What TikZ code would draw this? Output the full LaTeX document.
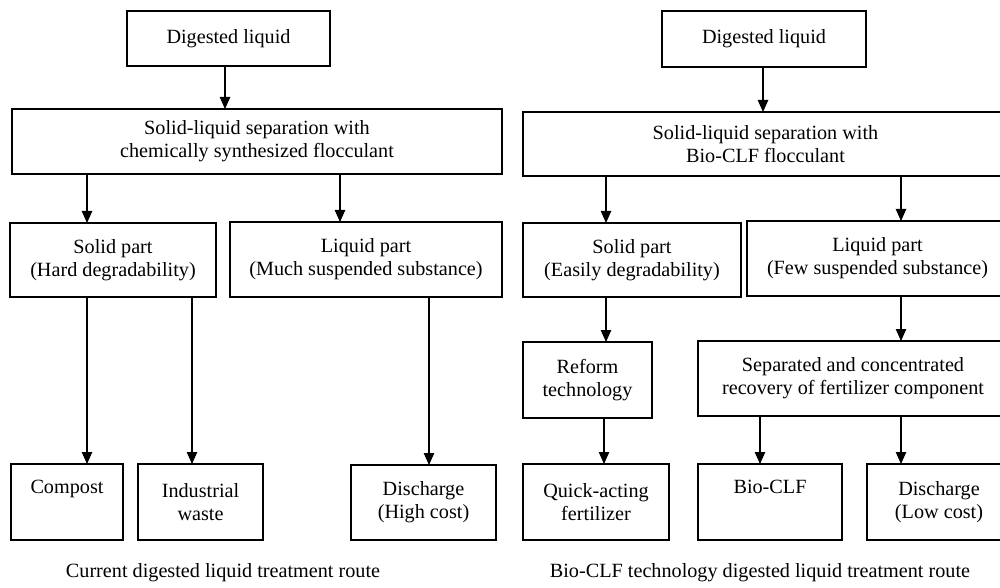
\documentclass[tikz,border=0pt]{standalone}
\usepackage{fontspec}
\setmainfont{Liberation Serif}
\usetikzlibrary{arrows.meta}
\begin{document}
\begin{tikzpicture}[x=0.5pt,y=-0.5pt,
  box/.style={draw, line width=1pt, inner sep=0pt, outer sep=0pt, align=center, anchor=north west,
    font=\fontsize{10.1}{11.4}\selectfont},
  arr/.style={line width=0.6pt, -{Triangle[width=5.2pt,length=6pt]}},
  captext/.style={font=\fontsize{10.1}{11.4}\selectfont}]
\clip (0,0) rectangle (1000,588);
\useasboundingbox (0,0) rectangle (1000,588);
% left route
\node[box, minimum width=101.5pt, minimum height=27.5pt] (dl1) at (127,11) {Digested liquid};
\node[box, minimum width=245pt, minimum height=32.5pt] (sl1) at (12,109) {Solid-liquid separation with\\chemically synthesized flocculant};
\node[box, minimum width=103pt, minimum height=37pt] (sp1) at (10,223) {Solid part\\(Hard degradability)};
\node[box, minimum width=136pt, minimum height=37.5pt] (lp1) at (230,222) {Liquid part\\(Much suspended substance)};
\node[box, minimum width=56pt, minimum height=38pt] (co) at (11,464) {Compost\\\strut};
\node[box, minimum width=62.5pt, minimum height=38pt] (iw) at (138,464) {Industrial\\waste};
\node[box, minimum width=72.5pt, minimum height=37.5pt] (dh) at (351,465) {Discharge\\(High cost)};
\node[captext] (c1) at (223,573) {Current digested liquid treatment route};
% right route
\node[box, minimum width=102pt, minimum height=28pt] (dl2) at (662,11) {Digested liquid};
\node[box, minimum width=242.5pt, minimum height=32pt] (sl2) at (523,112) {Solid-liquid separation with\\Bio-CLF flocculant};
\node[box, minimum width=109pt, minimum height=37pt] (sp2) at (523,223) {Solid part\\(Easily degradability)};
\node[box, minimum width=130.5pt, minimum height=37.5pt] (lp2) at (747,221) {Liquid part\\(Few suspended substance)};
\node[box, minimum width=64.5pt, minimum height=38pt] (rt) at (523,342) {Reform\\technology};
\node[box, minimum width=155pt, minimum height=37.5pt] (sc) at (698,341) {Separated and concentrated\\recovery of fertilizer component};
\node[box, minimum width=73pt, minimum height=38pt] (qf) at (523,464) {Quick-acting\\fertilizer};
\node[box, minimum width=72pt, minimum height=38pt] (bc) at (698,464) {Bio-CLF\\\strut};
\node[box, minimum width=72pt, minimum height=38pt] (dlc) at (867,464) {Discharge\\(Low cost)};
\node[captext] (c2) at (760,573) {Bio-CLF technology digested liquid treatment route};
% arrow columns
\coordinate (xa) at (225,0);
\coordinate (xb) at (87,0);
\coordinate (xc) at (340,0);
\coordinate (xd) at (192,0);
\coordinate (xe) at (429,0);
\coordinate (xf) at (763,0);
\coordinate (xg) at (606,0);
\coordinate (xh) at (901,0);
\coordinate (xi) at (604,0);
\coordinate (xj) at (760,0);
% left arrows
\draw[arr] (dl1.south -| xa) -- (sl1.north -| xa);
\draw[arr] (sl1.south -| xb) -- (sp1.north -| xb);
\draw[arr] (sl1.south -| xc) -- (lp1.north -| xc);
\draw[arr] (sp1.south -| xb) -- (co.north -| xb);
\draw[arr] (sp1.south -| xd) -- (iw.north -| xd);
\draw[arr] (lp1.south -| xe) -- (dh.north -| xe);
% right arrows
\draw[arr] (dl2.south -| xf) -- (sl2.north -| xf);
\draw[arr] (sl2.south -| xg) -- (sp2.north -| xg);
\draw[arr] (sl2.south -| xh) -- (lp2.north -| xh);
\draw[arr] (sp2.south -| xg) -- (rt.north -| xg);
\draw[arr] (lp2.south -| xh) -- (sc.north -| xh);
\draw[arr] (rt.south -| xi) -- (qf.north -| xi);
\draw[arr] (sc.south -| xj) -- (bc.north -| xj);
\draw[arr] (sc.south -| xh) -- (dlc.north -| xh);
\end{tikzpicture}
\end{document}
